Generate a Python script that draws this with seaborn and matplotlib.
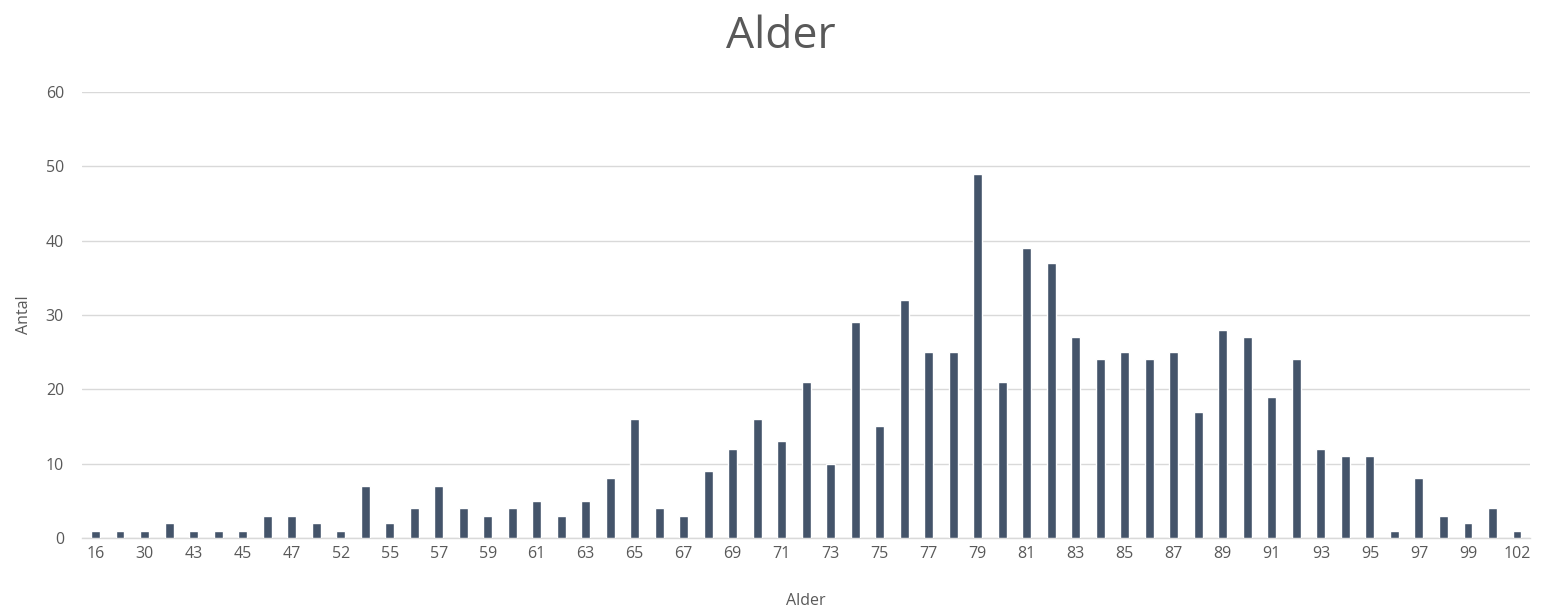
"""
Alder: antal per alder, stapeldiagram.
"""

import pandas as pd
import matplotlib
matplotlib.use("Agg")
import matplotlib.pyplot as plt
import seaborn as sns

# Alderskategorier (varannan etikett syns i diagrammet)
ages = [
    "16", "26", "30", "38", "43", "44", "45", "46", "47", "49",
    "52", "53", "55", "56", "57", "58", "59", "60", "61", "62",
    "63", "64", "65", "66", "67", "68", "69", "70", "71", "72",
    "73", "74", "75", "76", "77", "78", "79", "80", "81", "82",
    "83", "84", "85", "86", "87", "88", "89", "90", "91", "92",
    "93", "94", "95", "96", "97", "98", "99", "100", "102",
]

counts = [
    1, 1, 1, 2, 1, 1, 1, 3, 3, 2,
    1, 7, 2, 4, 7, 4, 3, 4, 5, 3,
    5, 8, 16, 4, 3, 9, 12, 16, 13, 21,
    10, 29, 15, 32, 25, 25, 49, 21, 39, 37,
    27, 24, 25, 24, 25, 17, 28, 27, 19, 24,
    12, 11, 11, 1, 8, 3, 2, 4, 1,
]

y_ticks = [0, 10, 20, 30, 40, 50, 60]

BAR_COLOR = "#44546A"
TEXT_COLOR = "#595959"
GRID_COLOR = "#D9D9D9"


def main() -> None:
    sns.set_theme(style="white")
    plt.rcParams["font.family"] = ["Open Sans", "DejaVu Sans"]

    data = pd.DataFrame({"Alder": ages, "Antal": counts})

    fig = plt.figure(figsize=(15.49, 6.12), dpi=100)
    ax = fig.add_axes([0.053, 0.121, 0.935, 0.729])

    sns.barplot(
        data=data,
        x="Alder",
        y="Antal",
        order=ages,
        color=BAR_COLOR,
        saturation=1,
        width=0.36,
        ax=ax,
        zorder=3,
    )

    ax.set_xlim(-0.55, len(ages) - 0.45)
    ax.set_ylim(0, 60)
    ax.set_yticks(y_ticks)
    ax.yaxis.grid(True, color=GRID_COLOR, linewidth=1.0, zorder=0)
    ax.set_axisbelow(True)

    shown = list(range(0, len(ages), 2))
    ax.set_xticks(shown)
    ax.set_xticklabels([ages[i] for i in shown])

    ax.tick_params(axis="both", length=0, labelsize=11.5,
                   labelcolor=TEXT_COLOR)
    ax.tick_params(axis="x", pad=6)
    ax.tick_params(axis="y", pad=13)

    for side in ["top", "right", "left"]:
        ax.spines[side].set_visible(False)
    ax.spines["bottom"].set_color(GRID_COLOR)
    ax.spines["bottom"].set_linewidth(1.0)

    ax.set_xlabel("Alder", fontsize=11.5, color=TEXT_COLOR, labelpad=22)
    ax.set_ylabel("Antal", fontsize=11.5, color=TEXT_COLOR, labelpad=10)

    fig.text(0.504, 0.94, "Alder", ha="center", va="center",
             fontsize=32, color=TEXT_COLOR)

    fig.savefig("out.png", dpi=100, facecolor="white")


if __name__ == "__main__":
    main()
